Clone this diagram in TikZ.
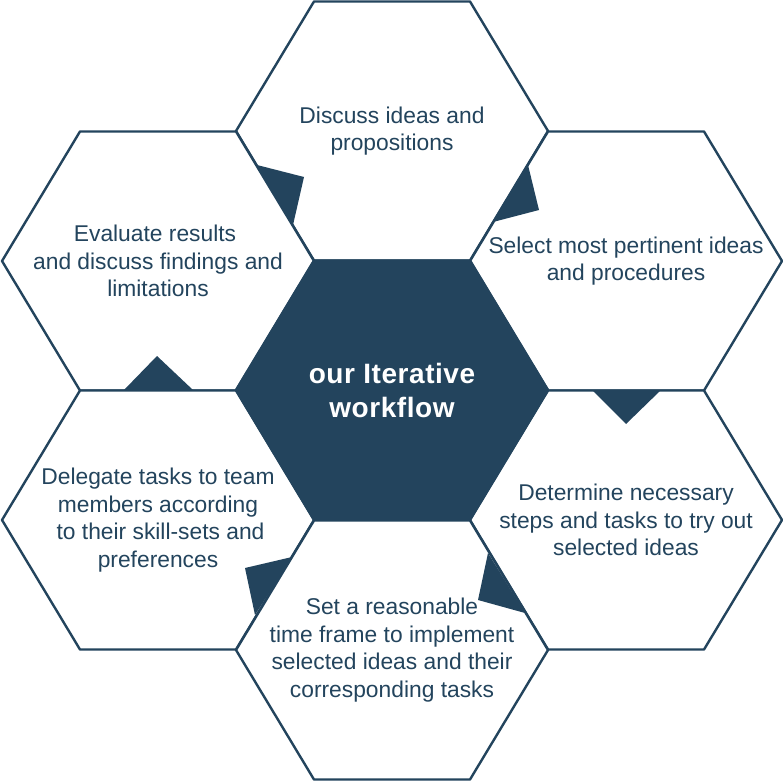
\documentclass[tikz,border=0pt]{standalone}
\usepackage{fontspec}
\setmainfont{Liberation Sans}
\newfontfamily\coretextfont[LetterSpace=2]{Liberation Sans}
\usepackage[dvipsnames]{xcolor}
\definecolor{hexblue}{HTML}{23445D}
\begin{document}
\begin{tikzpicture}[line cap=round,line join=round, x=1pt,y=-1pt,
	hexline/.style={draw=hexblue, line width=2.4pt},
	hextext/.style={text=hexblue, align=center, font=\fontsize{22.8}{27.7}\selectfont}]
	\useasboundingbox (0,0) rectangle (783,783);
	\foreach \cx/\cy/\fc in {392/131/white,158/261/white,626/261/white,158/520/white,626/520/white,392/650/white,392/390/hexblue}
	\draw[hexline, fill=\fc] (\cx-78,\cy-129.5) -- (\cx+78,\cy-129.5) -- (\cx+156,\cy) -- (\cx+78,\cy+129.5) -- (\cx-78,\cy+129.5) -- (\cx-156,\cy) -- cycle;
	\fill [color=hexblue] (257,165) -- (304,177) -- (293,225) -- cycle;
	\fill [color=hexblue] (528,165) -- (539,210) -- (493,222) -- cycle;
	\fill [color=hexblue] (592,390) -- (661,390) -- (626,424) -- cycle;
	\fill [color=hexblue] (488,553) -- (478,600) -- (525,613) -- cycle;
	\fill [color=hexblue] (292,557) -- (245,568) -- (255,615) -- cycle;
	\fill [color=hexblue] (124,390) -- (193,390) -- (157,356) -- cycle;
	\node[text=white, align=center, font=\coretextfont\bfseries\fontsize{28}{34}\selectfont] (core) at (392,390) {our Iterative\\workflow};
	\node[hextext] (discuss) at (392,131) {Discuss ideas and\\propositions};
	\node[hextext] (select) at (626,261) {Select most pertinent ideas\\and procedures};
	\node[hextext] (determine) at (626,520) {Determine necessary\\steps and tasks to try out\\selected ideas};
	\node[hextext] (settime) at (392,650) {Set a reasonable\\time frame to implement\\selected ideas and their\\corresponding tasks};
	\node[hextext] (delegate) at (158,520) {Delegate tasks to team\\members according\\\hspace*{5pt}to their skill-sets and\\preferences};
	\node[hextext] (evaluate) at (158,261) {Evaluate results\hspace*{6pt}\\and discuss findings and\\limitations};
\end{tikzpicture}
\end{document}
